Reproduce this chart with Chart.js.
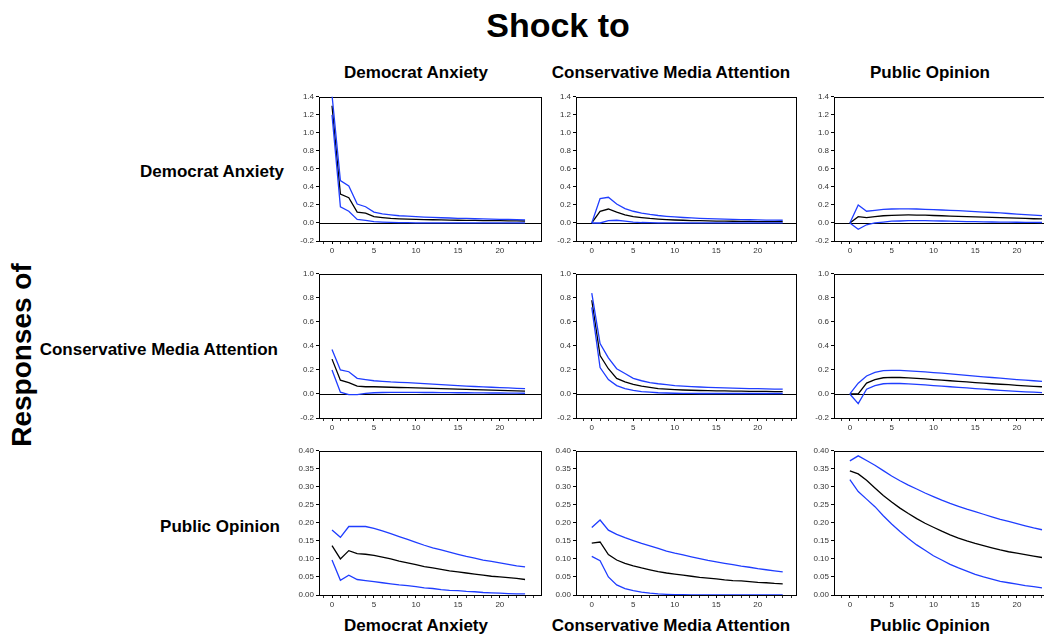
<!DOCTYPE html>
<html>
<head>
<meta charset="utf-8">
<script src="https://cdn.jsdelivr.net/npm/chart.js@4/dist/chart.umd.min.js"></script>
<style>
  body { margin: 0; background: #fff; width: 1044px; height: 637px; overflow: hidden; position: relative; font-family: "Liberation Sans", Arial, sans-serif; }
  .lbl { position: absolute; font-weight: bold; color: #000; white-space: nowrap; }
  canvas { position: absolute; }
</style>
</head>
<body>
<div class="lbl" style="left:0;width:1116px;top:6px;text-align:center;font-size:34px;">Shock to</div>
<div id="labels"></div>
<div class="lbl" style="left:22px;top:355px;font-size:28px;transform:translate(-50%,-50%) rotate(-90deg);">Responses of</div>
<div id="charts"></div>
<script>
// periods 0..23
const periods = [0,1,2,3,4,5,6,7,8,9,10,11,12,13,14,15,16,17,18,19,20,21,22,23];
const variables = ['Democrat Anxiety', 'Conservative Media Attention', 'Public Opinion'];

// response of Democrat Anxiety
const anx_anx = [1.30,0.32,0.28,0.12,0.11,0.07,0.06,0.05,0.045,0.042,0.04,0.038,0.036,0.034,0.032,0.03,0.029,0.028,0.027,0.026,0.025,0.024,0.023,0.022];
const anx_anx_hi = [1.42,0.47,0.41,0.21,0.18,0.12,0.10,0.09,0.08,0.075,0.07,0.066,0.062,0.058,0.055,0.052,0.05,0.047,0.045,0.043,0.041,0.039,0.037,0.035];
const anx_anx_lo = [1.20,0.18,0.13,0.04,0.03,0.015,0.01,0.006,0.004,0.003,0.002,0.002,0.002,0.002,0.002,0.002,0.002,0.002,0.002,0.002,0.002,0.002,0.002,0.002];
const anx_med = [0,0.13,0.155,0.12,0.09,0.07,0.06,0.05,0.043,0.037,0.033,0.03,0.027,0.025,0.023,0.021,0.02,0.019,0.018,0.017,0.016,0.016,0.015,0.015];
const anx_med_hi = [0,0.27,0.285,0.21,0.16,0.13,0.11,0.095,0.083,0.074,0.067,0.061,0.056,0.052,0.048,0.045,0.042,0.04,0.038,0.036,0.034,0.032,0.031,0.03];
const anx_med_lo = [0,0.0,0.025,0.03,0.02,0.01,0.005,0.003,0.002,0.001,0.001,0.001,0.001,0.001,0.001,0.001,0.001,0.001,0.001,0.001,0.001,0.001,0.001,0.001];
const anx_pub = [0,0.07,0.06,0.07,0.08,0.085,0.088,0.089,0.088,0.086,0.083,0.08,0.077,0.074,0.071,0.068,0.065,0.062,0.059,0.056,0.053,0.05,0.047,0.045];
const anx_pub_hi = [0,0.20,0.13,0.14,0.15,0.155,0.157,0.157,0.155,0.152,0.148,0.144,0.14,0.136,0.131,0.126,0.121,0.116,0.111,0.105,0.099,0.093,0.087,0.081];
const anx_pub_lo = [0,-0.07,-0.02,0.0,0.01,0.02,0.022,0.025,0.025,0.025,0.024,0.022,0.02,0.018,0.016,0.014,0.012,0.011,0.01,0.009,0.008,0.007,0.006,0.005];

// response of Conservative Media Attention
const med_anx = [0.29,0.115,0.095,0.065,0.06,0.06,0.058,0.056,0.054,0.052,0.05,0.048,0.046,0.044,0.042,0.04,0.038,0.036,0.034,0.032,0.03,0.028,0.026,0.024];
const med_anx_hi = [0.37,0.20,0.185,0.13,0.12,0.11,0.105,0.1,0.097,0.094,0.09,0.086,0.082,0.078,0.074,0.07,0.066,0.062,0.059,0.056,0.053,0.05,0.047,0.045];
const med_anx_lo = [0.20,0.015,-0.005,-0.005,0.005,0.01,0.012,0.013,0.013,0.013,0.013,0.012,0.012,0.011,0.011,0.01,0.01,0.009,0.009,0.008,0.008,0.007,0.007,0.006];
const med_med = [0.78,0.32,0.21,0.13,0.10,0.08,0.065,0.055,0.045,0.04,0.036,0.033,0.031,0.029,0.027,0.026,0.025,0.024,0.023,0.022,0.021,0.021,0.02,0.02];
const med_med_hi = [0.84,0.42,0.30,0.21,0.17,0.13,0.11,0.095,0.085,0.077,0.07,0.065,0.061,0.058,0.055,0.053,0.051,0.049,0.047,0.045,0.044,0.042,0.041,0.04];
const med_med_lo = [0.72,0.22,0.12,0.07,0.045,0.03,0.02,0.015,0.01,0.008,0.006,0.005,0.005,0.004,0.004,0.004,0.004,0.004,0.004,0.004,0.004,0.004,0.004,0.004];
const med_pub = [0,0.0,0.09,0.12,0.135,0.138,0.137,0.134,0.13,0.125,0.12,0.115,0.11,0.105,0.1,0.095,0.09,0.085,0.081,0.077,0.072,0.068,0.064,0.06];
const med_pub_hi = [0,0.09,0.15,0.18,0.195,0.197,0.196,0.192,0.188,0.183,0.178,0.173,0.167,0.161,0.155,0.149,0.143,0.137,0.131,0.125,0.12,0.115,0.11,0.105];
const med_pub_lo = [0,-0.08,0.04,0.07,0.085,0.088,0.087,0.084,0.08,0.075,0.07,0.065,0.06,0.055,0.05,0.045,0.04,0.035,0.03,0.026,0.022,0.018,0.015,0.012];

// response of Public Opinion
const pub_anx = [0.137,0.10,0.123,0.115,0.113,0.11,0.105,0.10,0.094,0.089,0.084,0.079,0.075,0.071,0.067,0.064,0.061,0.058,0.055,0.052,0.05,0.048,0.046,0.043];
const pub_anx_hi = [0.18,0.16,0.19,0.19,0.19,0.185,0.178,0.17,0.162,0.154,0.146,0.138,0.131,0.125,0.119,0.113,0.107,0.102,0.097,0.093,0.089,0.085,0.081,0.078];
const pub_anx_lo = [0.097,0.041,0.055,0.043,0.04,0.037,0.034,0.031,0.028,0.026,0.023,0.02,0.018,0.015,0.013,0.012,0.01,0.009,0.007,0.006,0.005,0.004,0.003,0.003];
const pub_med = [0.144,0.147,0.112,0.097,0.088,0.081,0.075,0.07,0.065,0.061,0.058,0.055,0.052,0.049,0.047,0.045,0.042,0.04,0.039,0.037,0.035,0.034,0.032,0.031];
const pub_med_hi = [0.187,0.208,0.18,0.168,0.159,0.151,0.143,0.136,0.129,0.122,0.116,0.111,0.106,0.101,0.096,0.092,0.088,0.084,0.08,0.077,0.073,0.07,0.067,0.064];
const pub_med_lo = [0.107,0.095,0.05,0.028,0.018,0.012,0.008,0.005,0.003,0.002,0.001,0.001,0.0,0.0,0.0,0.0,0.0,0.0,0.0,0.0,0.0,0.0,0.0,0.0];
const pub_pub = [0.344,0.336,0.318,0.297,0.276,0.258,0.241,0.226,0.212,0.199,0.188,0.177,0.167,0.158,0.15,0.143,0.137,0.131,0.125,0.12,0.116,0.112,0.108,0.104];
const pub_pub_hi = [0.372,0.386,0.373,0.36,0.345,0.33,0.317,0.305,0.294,0.283,0.273,0.263,0.254,0.246,0.238,0.231,0.224,0.217,0.21,0.204,0.198,0.192,0.186,0.181];
const pub_pub_lo = [0.32,0.287,0.266,0.245,0.22,0.197,0.176,0.157,0.139,0.124,0.109,0.097,0.085,0.075,0.066,0.057,0.05,0.044,0.038,0.034,0.03,0.026,0.023,0.02];

const grid = [
  [[anx_anx, anx_anx_hi, anx_anx_lo], [anx_med, anx_med_hi, anx_med_lo], [anx_pub, anx_pub_hi, anx_pub_lo]],
  [[med_anx, med_anx_hi, med_anx_lo], [med_med, med_med_hi, med_med_lo], [med_pub, med_pub_hi, med_pub_lo]],
  [[pub_anx, pub_anx_hi, pub_anx_lo], [pub_med, pub_med_hi, pub_med_lo], [pub_pub, pub_pub_hi, pub_pub_lo]]
];

const cols = [
  {left: 319, right: 541, xmin: -1.55, xmax: 24.9, center: 416},
  {left: 576, right: 796, xmin: -1.9, xmax: 24.6, center: 671},
  {left: 834, right: 1047, xmin: -1.9, xmax: 23.6, center: 930}
];
const rows = [
  {top: 96, bottom: 241, min: -0.2, max: 1.4, step: 0.2, dec: 1, labelY: 172, labelRight: 284},
  {top: 273, bottom: 418, min: -0.2, max: 1.0, step: 0.2, dec: 1, labelY: 350, labelRight: 278},
  {top: 450, bottom: 595, min: 0, max: 0.4, step: 0.05, dec: 2, labelY: 527, labelRight: 280}
];

// headers
const labelsDiv = document.getElementById('labels');
function addLabel(text, css) {
  const d = document.createElement('div');
  d.className = 'lbl';
  d.textContent = text;
  d.style.cssText = css;
  labelsDiv.appendChild(d);
}
cols.forEach((c, i) => {
  addLabel(variables[i], `left:${c.center}px;top:73px;font-size:17px;transform:translate(-50%,-50%);`);
  addLabel(variables[i], `left:${c.center}px;top:626px;font-size:17px;transform:translate(-50%,-50%);`);
});
rows.forEach((r, i) => {
  addLabel(variables[i], `right:${1044 - r.labelRight}px;top:${r.labelY}px;font-size:17px;transform:translateY(-50%);`);
});

// frame box and zero line
const framePlugin = {
  id: 'frame',
  beforeDatasetsDraw(chart) {
    const a = chart.chartArea, ctx = chart.ctx, y = chart.scales.y;
    ctx.save();
    ctx.strokeStyle = '#000';
    ctx.lineWidth = 1;
    ctx.strokeRect(Math.round(a.left) + 0.5, Math.round(a.top) + 0.5, Math.round(a.right - a.left), Math.round(a.bottom - a.top));
    if (y.min < 0) {
      const zy = Math.round(y.getPixelForValue(0)) + 0.5;
      ctx.beginPath();
      ctx.moveTo(a.left, zy);
      ctx.lineTo(a.right, zy);
      ctx.stroke();
    }
    ctx.restore();
  }
};

const yAxisW = 40, padTop = 6, padRight = 4, xAxisH = 20;
const chartsDiv = document.getElementById('charts');

rows.forEach((r, ri) => {
  cols.forEach((c, ci) => {
    const series = grid[ri][ci];
    const cv = document.createElement('canvas');
    const w = c.right - c.left + yAxisW + padRight;
    const h = r.bottom - r.top + padTop + xAxisH;
    cv.width = w; cv.height = h;
    cv.style.left = (c.left - yAxisW) + 'px';
    cv.style.top = (r.top - padTop) + 'px';
    cv.style.width = w + 'px';
    cv.style.height = h + 'px';
    chartsDiv.appendChild(cv);

    const mk = (vals, color) => ({
      data: periods.map((p, k) => ({x: p, y: vals[k]})),
      borderColor: color,
      borderWidth: 1.3,
      pointRadius: 0,
      tension: 0,
      fill: false
    });

    new Chart(cv.getContext('2d'), {
      type: 'line',
      data: {
        datasets: [
          mk(series[1], '#1f3dff'),
          mk(series[2], '#1f3dff'),
          mk(series[0], '#000000')
        ]
      },
      options: {
        responsive: false,
        animation: false,
        devicePixelRatio: 1,
        layout: {padding: {top: padTop, right: padRight, left: 0, bottom: 0}},
        plugins: {legend: {display: false}, tooltip: {enabled: false}},
        scales: {
          x: {
            type: 'linear',
            min: c.xmin,
            max: c.xmax,
            afterFit: s => { s.height = xAxisH; },
            afterBuildTicks: s => {
              const t = [];
              for (let v = Math.ceil(s.min); v <= s.max; v++) t.push({value: v});
              s.ticks = t;
            },
            border: {display: false},
            grid: {drawOnChartArea: false, drawTicks: true, tickLength: 3, color: '#000',
              tickWidth: ctx => (ctx.tick && ctx.tick.value % 5 === 0) ? 1 : 0.8},
            ticks: {
              autoSkip: false,
              maxRotation: 0,
              padding: 2,
              color: '#333',
              font: {family: 'Liberation Sans', size: 8},
              callback: v => (v % 5 === 0 ? String(v) : '')
            }
          },
          y: {
            min: r.min,
            max: r.max,
            afterFit: s => { s.width = yAxisW; },
            border: {display: false},
            grid: {drawOnChartArea: false, drawTicks: true, tickLength: 3, color: '#000'},
            ticks: {
              stepSize: r.step,
              padding: 2,
              color: '#333',
              font: {family: 'Liberation Sans', size: 8},
              callback: v => (Math.abs(v) < 1e-9 ? 0 : Number(v)).toFixed(r.dec)
            }
          }
        }
      },
      plugins: [framePlugin]
    });
  });
});
</script>
</body>
</html>
